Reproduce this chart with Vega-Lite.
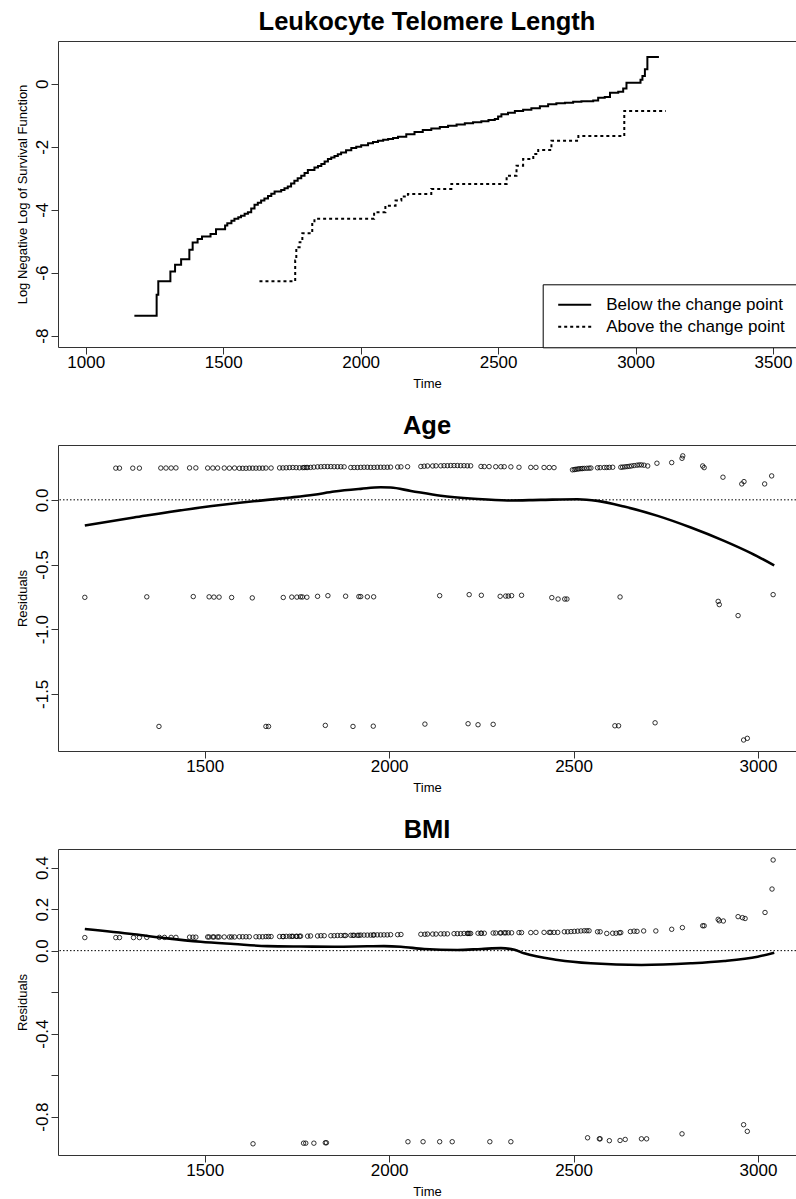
{
  "$schema": "https://vega.github.io/schema/vega-lite/v6.json",
  "padding": {"left": 15, "top": 9, "right": 0, "bottom": 0},
  "spacing": 22,
  "config": {
    "font": "Liberation Sans",
    "view": {"stroke": null},
    "axis": {"domainColor": "#333333", "tickColor": "#333333", "labelColor": "black", "titleColor": "black", "grid": false, "tickSize": 7, "labelFont": "Liberation Sans", "labelFontSize": 17, "titleFont": "Liberation Sans", "titleFontSize": 13, "titleFontWeight": "normal", "labelOverlap": false, "labelFlush": false, "labelBound": false},
    "title": {"font": "Liberation Sans", "fontSize": 25.5, "fontWeight": "bold", "baseline": "alphabetic", "offset": 5.6, "frame": "group", "anchor": "middle", "color": "black"}
  },
  "datasets": {
    "surv": [
      {"t":1177,"v":-7.37,"g":"Below the change point"},{"t":1258,"v":-6.70,"g":"Below the change point"},{"t":1264,"v":-6.27,"g":"Below the change point"},{"t":1308,"v":-5.96,"g":"Below the change point"},{"t":1325,"v":-5.75,"g":"Below the change point"},{"t":1347,"v":-5.57,"g":"Below the change point"},{"t":1377,"v":-5.27,"g":"Below the change point"},{"t":1389,"v":-5.04,"g":"Below the change point"},{"t":1407,"v":-4.93,"g":"Below the change point"},{"t":1423,"v":-4.85,"g":"Below the change point"},{"t":1454,"v":-4.77,"g":"Below the change point"},{"t":1474,"v":-4.62,"g":"Below the change point"},{"t":1507,"v":-4.50,"g":"Below the change point"},{"t":1515,"v":-4.43,"g":"Below the change point"},{"t":1530,"v":-4.35,"g":"Below the change point"},{"t":1541,"v":-4.29,"g":"Below the change point"},{"t":1555,"v":-4.24,"g":"Below the change point"},{"t":1565,"v":-4.19,"g":"Below the change point"},{"t":1578,"v":-4.13,"g":"Below the change point"},{"t":1590,"v":-4.08,"g":"Below the change point"},{"t":1602,"v":-3.96,"g":"Below the change point"},{"t":1614,"v":-3.84,"g":"Below the change point"},{"t":1626,"v":-3.78,"g":"Below the change point"},{"t":1638,"v":-3.71,"g":"Below the change point"},{"t":1650,"v":-3.64,"g":"Below the change point"},{"t":1663,"v":-3.56,"g":"Below the change point"},{"t":1675,"v":-3.49,"g":"Below the change point"},{"t":1687,"v":-3.42,"g":"Below the change point"},{"t":1711,"v":-3.37,"g":"Below the change point"},{"t":1723,"v":-3.32,"g":"Below the change point"},{"t":1735,"v":-3.26,"g":"Below the change point"},{"t":1747,"v":-3.17,"g":"Below the change point"},{"t":1759,"v":-3.08,"g":"Below the change point"},{"t":1771,"v":-3.00,"g":"Below the change point"},{"t":1784,"v":-2.92,"g":"Below the change point"},{"t":1796,"v":-2.83,"g":"Below the change point"},{"t":1808,"v":-2.74,"g":"Below the change point"},{"t":1832,"v":-2.66,"g":"Below the change point"},{"t":1845,"v":-2.61,"g":"Below the change point"},{"t":1857,"v":-2.55,"g":"Below the change point"},{"t":1869,"v":-2.47,"g":"Below the change point"},{"t":1881,"v":-2.39,"g":"Below the change point"},{"t":1893,"v":-2.34,"g":"Below the change point"},{"t":1905,"v":-2.29,"g":"Below the change point"},{"t":1917,"v":-2.24,"g":"Below the change point"},{"t":1929,"v":-2.18,"g":"Below the change point"},{"t":1947,"v":-2.11,"g":"Below the change point"},{"t":1966,"v":-2.04,"g":"Below the change point"},{"t":1984,"v":-2.00,"g":"Below the change point"},{"t":2002,"v":-1.95,"g":"Below the change point"},{"t":2027,"v":-1.89,"g":"Below the change point"},{"t":2045,"v":-1.85,"g":"Below the change point"},{"t":2063,"v":-1.81,"g":"Below the change point"},{"t":2082,"v":-1.78,"g":"Below the change point"},{"t":2100,"v":-1.75,"g":"Below the change point"},{"t":2118,"v":-1.72,"g":"Below the change point"},{"t":2136,"v":-1.68,"g":"Below the change point"},{"t":2166,"v":-1.60,"g":"Below the change point"},{"t":2196,"v":-1.53,"g":"Below the change point"},{"t":2226,"v":-1.47,"g":"Below the change point"},{"t":2257,"v":-1.42,"g":"Below the change point"},{"t":2288,"v":-1.37,"g":"Below the change point"},{"t":2318,"v":-1.33,"g":"Below the change point"},{"t":2349,"v":-1.29,"g":"Below the change point"},{"t":2379,"v":-1.25,"g":"Below the change point"},{"t":2409,"v":-1.22,"g":"Below the change point"},{"t":2439,"v":-1.19,"g":"Below the change point"},{"t":2465,"v":-1.15,"g":"Below the change point"},{"t":2488,"v":-1.12,"g":"Below the change point"},{"t":2500,"v":-1.04,"g":"Below the change point"},{"t":2512,"v":-0.97,"g":"Below the change point"},{"t":2536,"v":-0.92,"g":"Below the change point"},{"t":2561,"v":-0.86,"g":"Below the change point"},{"t":2591,"v":-0.82,"g":"Below the change point"},{"t":2621,"v":-0.78,"g":"Below the change point"},{"t":2652,"v":-0.71,"g":"Below the change point"},{"t":2682,"v":-0.65,"g":"Below the change point"},{"t":2712,"v":-0.62,"g":"Below the change point"},{"t":2743,"v":-0.60,"g":"Below the change point"},{"t":2773,"v":-0.57,"g":"Below the change point"},{"t":2803,"v":-0.55,"g":"Below the change point"},{"t":2846,"v":-0.53,"g":"Below the change point"},{"t":2864,"v":-0.44,"g":"Below the change point"},{"t":2888,"v":-0.42,"g":"Below the change point"},{"t":2907,"v":-0.28,"g":"Below the change point"},{"t":2937,"v":-0.25,"g":"Below the change point"},{"t":2955,"v":-0.15,"g":"Below the change point"},{"t":2967,"v":0.03,"g":"Below the change point"},{"t":3010,"v":0.03,"g":"Below the change point"},{"t":3018,"v":0.13,"g":"Below the change point"},{"t":3025,"v":0.25,"g":"Below the change point"},{"t":3034,"v":0.46,"g":"Below the change point"},{"t":3043,"v":0.85,"g":"Below the change point"},{"t":3085,"v":0.85,"g":"Below the change point"},
      {"t":1632,"v":-6.27,"g":"Above the change point"},{"t":1762,"v":-5.61,"g":"Above the change point"},{"t":1766,"v":-5.19,"g":"Above the change point"},{"t":1778,"v":-5.03,"g":"Above the change point"},{"t":1788,"v":-4.75,"g":"Above the change point"},{"t":1824,"v":-4.40,"g":"Above the change point"},{"t":1832,"v":-4.29,"g":"Above the change point"},{"t":2049,"v":-4.08,"g":"Above the change point"},{"t":2090,"v":-3.87,"g":"Above the change point"},{"t":2127,"v":-3.71,"g":"Above the change point"},{"t":2148,"v":-3.58,"g":"Above the change point"},{"t":2172,"v":-3.50,"g":"Above the change point"},{"t":2257,"v":-3.34,"g":"Above the change point"},{"t":2330,"v":-3.18,"g":"Above the change point"},{"t":2531,"v":-2.92,"g":"Above the change point"},{"t":2567,"v":-2.60,"g":"Above the change point"},{"t":2591,"v":-2.39,"g":"Above the change point"},{"t":2628,"v":-2.23,"g":"Above the change point"},{"t":2646,"v":-2.10,"g":"Above the change point"},{"t":2694,"v":-1.81,"g":"Above the change point"},{"t":2792,"v":-1.66,"g":"Above the change point"},{"t":2959,"v":-0.86,"g":"Above the change point"},{"t":3110,"v":-0.86,"g":"Above the change point"}
    ],
    "age": [
      {"t":1259,"r":0.245},{"t":1269,"r":0.245},{"t":1305,"r":0.245},{"t":1323,"r":0.245},{"t":1381,"r":0.246},{"t":1395,"r":0.246},{"t":1409,"r":0.246},{"t":1422,"r":0.247},{"t":1459,"r":0.247},{"t":1476,"r":0.247},{"t":1508,"r":0.246},{"t":1522,"r":0.246},{"t":1535,"r":0.246},{"t":1553,"r":0.246},{"t":1567,"r":0.245},{"t":1581,"r":0.246},{"t":1594,"r":0.244},{"t":1603,"r":0.244},{"t":1612,"r":0.244},{"t":1621,"r":0.245},{"t":1630,"r":0.245},{"t":1639,"r":0.245},{"t":1648,"r":0.245},{"t":1657,"r":0.245},{"t":1666,"r":0.246},{"t":1680,"r":0.246},{"t":1703,"r":0.247},{"t":1712,"r":0.247},{"t":1721,"r":0.248},{"t":1730,"r":0.249},{"t":1739,"r":0.25},{"t":1748,"r":0.249},{"t":1757,"r":0.248},{"t":1766,"r":0.249},{"t":1770,"r":0.25},{"t":1775,"r":0.25},{"t":1779,"r":0.25},{"t":1787,"r":0.251},{"t":1796,"r":0.253},{"t":1806,"r":0.255},{"t":1815,"r":0.256},{"t":1824,"r":0.257},{"t":1833,"r":0.257},{"t":1842,"r":0.257},{"t":1851,"r":0.256},{"t":1860,"r":0.256},{"t":1869,"r":0.256},{"t":1878,"r":0.255},{"t":1896,"r":0.25},{"t":1905,"r":0.25},{"t":1914,"r":0.25},{"t":1923,"r":0.251},{"t":1932,"r":0.252},{"t":1941,"r":0.252},{"t":1950,"r":0.251},{"t":1959,"r":0.251},{"t":1968,"r":0.252},{"t":1977,"r":0.252},{"t":1986,"r":0.252},{"t":1995,"r":0.252},{"t":2004,"r":0.253},{"t":2023,"r":0.254},{"t":2032,"r":0.255},{"t":2050,"r":0.256},{"t":2086,"r":0.258},{"t":2095,"r":0.26},{"t":2104,"r":0.262},{"t":2118,"r":0.262},{"t":2127,"r":0.263},{"t":2140,"r":0.263},{"t":2149,"r":0.264},{"t":2158,"r":0.264},{"t":2167,"r":0.265},{"t":2176,"r":0.265},{"t":2185,"r":0.265},{"t":2194,"r":0.264},{"t":2203,"r":0.264},{"t":2212,"r":0.263},{"t":2221,"r":0.263},{"t":2249,"r":0.258},{"t":2258,"r":0.257},{"t":2271,"r":0.257},{"t":2289,"r":0.256},{"t":2303,"r":0.256},{"t":2312,"r":0.256},{"t":2330,"r":0.255},{"t":2352,"r":0.252},{"t":2384,"r":0.251},{"t":2398,"r":0.251},{"t":2420,"r":0.25},{"t":2434,"r":0.25},{"t":2447,"r":0.249},{"t":2497,"r":0.232},{"t":2502,"r":0.234},{"t":2506,"r":0.236},{"t":2511,"r":0.238},{"t":2515,"r":0.24},{"t":2520,"r":0.241},{"t":2524,"r":0.242},{"t":2529,"r":0.243},{"t":2536,"r":0.244},{"t":2542,"r":0.245},{"t":2547,"r":0.246},{"t":2565,"r":0.248},{"t":2572,"r":0.249},{"t":2583,"r":0.25},{"t":2590,"r":0.25},{"t":2597,"r":0.251},{"t":2606,"r":0.252},{"t":2628,"r":0.252},{"t":2633,"r":0.253},{"t":2639,"r":0.255},{"t":2645,"r":0.257},{"t":2651,"r":0.259},{"t":2657,"r":0.262},{"t":2664,"r":0.265},{"t":2672,"r":0.268},{"t":2678,"r":0.27},{"t":2684,"r":0.27},{"t":2691,"r":0.268},{"t":2701,"r":0.262},{"t":2726,"r":0.283},{"t":2766,"r":0.288},{"t":2794,"r":0.321},{"t":2796,"r":0.34},{"t":2850,"r":0.262},{"t":2854,"r":0.249},{"t":2905,"r":0.175},{"t":2956,"r":0.123},{"t":2962,"r":0.141},{"t":3018,"r":0.123},{"t":3037,"r":0.185},
      {"t":1175,"r":-0.754},{"t":1343,"r":-0.75},{"t":1469,"r":-0.748},{"t":1512,"r":-0.75},{"t":1525,"r":-0.752},{"t":1539,"r":-0.752},{"t":1573,"r":-0.755},{"t":1629,"r":-0.758},{"t":1713,"r":-0.755},{"t":1736,"r":-0.752},{"t":1750,"r":-0.752},{"t":1760,"r":-0.75},{"t":1765,"r":-0.751},{"t":1777,"r":-0.753},{"t":1806,"r":-0.746},{"t":1834,"r":-0.741},{"t":1882,"r":-0.745},{"t":1918,"r":-0.748},{"t":1923,"r":-0.748},{"t":1941,"r":-0.75},{"t":1958,"r":-0.75},{"t":2137,"r":-0.741},{"t":2217,"r":-0.733},{"t":2250,"r":-0.738},{"t":2301,"r":-0.746},{"t":2316,"r":-0.744},{"t":2323,"r":-0.744},{"t":2332,"r":-0.741},{"t":2359,"r":-0.738},{"t":2441,"r":-0.756},{"t":2458,"r":-0.767},{"t":2476,"r":-0.767},{"t":2482,"r":-0.767},{"t":2626,"r":-0.751},{"t":2892,"r":-0.785},{"t":2895,"r":-0.81},{"t":2946,"r":-0.895},{"t":3041,"r":-0.733},
      {"t":1376,"r":-1.752},{"t":1666,"r":-1.752},{"t":1673,"r":-1.752},{"t":1827,"r":-1.744},{"t":1902,"r":-1.752},{"t":1957,"r":-1.75},{"t":2097,"r":-1.734},{"t":2214,"r":-1.731},{"t":2241,"r":-1.739},{"t":2282,"r":-1.736},{"t":2612,"r":-1.747},{"t":2622,"r":-1.747},{"t":2721,"r":-1.724},{"t":2961,"r":-1.857},{"t":2971,"r":-1.844}
    ],
    "ageFit": [
      {"t":1175,"r":-0.198},{"t":1308,"r":-0.137},{"t":1489,"r":-0.059},{"t":1670,"r":0.0},{"t":1733,"r":0.018},{"t":1796,"r":0.039},{"t":1851,"r":0.064},{"t":1923,"r":0.085},{"t":1977,"r":0.097},{"t":2004,"r":0.095},{"t":2059,"r":0.069},{"t":2140,"r":0.031},{"t":2230,"r":0.008},{"t":2321,"r":-0.005},{"t":2411,"r":0.0},{"t":2511,"r":0.005},{"t":2565,"r":-0.008},{"t":2637,"r":-0.052},{"t":2728,"r":-0.124},{"t":2818,"r":-0.214},{"t":2908,"r":-0.317},{"t":2981,"r":-0.412},{"t":3044,"r":-0.507}
    ],
    "bmi": [
      {"t":1175,"r":0.063},{"t":1259,"r":0.063},{"t":1269,"r":0.063},{"t":1307,"r":0.063},{"t":1323,"r":0.063},{"t":1343,"r":0.064},{"t":1377,"r":0.064},{"t":1391,"r":0.064},{"t":1409,"r":0.064},{"t":1422,"r":0.064},{"t":1459,"r":0.065},{"t":1468,"r":0.065},{"t":1476,"r":0.065},{"t":1508,"r":0.066},{"t":1512,"r":0.066},{"t":1522,"r":0.066},{"t":1525,"r":0.066},{"t":1535,"r":0.066},{"t":1539,"r":0.066},{"t":1553,"r":0.066},{"t":1567,"r":0.066},{"t":1573,"r":0.066},{"t":1581,"r":0.066},{"t":1594,"r":0.067},{"t":1603,"r":0.067},{"t":1612,"r":0.067},{"t":1621,"r":0.067},{"t":1639,"r":0.067},{"t":1648,"r":0.067},{"t":1657,"r":0.067},{"t":1666,"r":0.068},{"t":1673,"r":0.068},{"t":1680,"r":0.068},{"t":1703,"r":0.068},{"t":1712,"r":0.068},{"t":1713,"r":0.068},{"t":1721,"r":0.069},{"t":1730,"r":0.069},{"t":1736,"r":0.069},{"t":1739,"r":0.069},{"t":1748,"r":0.069},{"t":1750,"r":0.069},{"t":1757,"r":0.069},{"t":1760,"r":0.07},{"t":1779,"r":0.07},{"t":1787,"r":0.071},{"t":1806,"r":0.071},{"t":1815,"r":0.072},{"t":1824,"r":0.072},{"t":1842,"r":0.072},{"t":1851,"r":0.072},{"t":1860,"r":0.073},{"t":1869,"r":0.073},{"t":1878,"r":0.073},{"t":1882,"r":0.073},{"t":1896,"r":0.074},{"t":1902,"r":0.074},{"t":1905,"r":0.074},{"t":1914,"r":0.074},{"t":1918,"r":0.074},{"t":1923,"r":0.075},{"t":1932,"r":0.075},{"t":1941,"r":0.075},{"t":1950,"r":0.075},{"t":1957,"r":0.075},{"t":1959,"r":0.076},{"t":1968,"r":0.076},{"t":1977,"r":0.076},{"t":1986,"r":0.076},{"t":1995,"r":0.076},{"t":2004,"r":0.077},{"t":2023,"r":0.077},{"t":2032,"r":0.078},{"t":2086,"r":0.079},{"t":2097,"r":0.079},{"t":2104,"r":0.08},{"t":2118,"r":0.08},{"t":2127,"r":0.08},{"t":2140,"r":0.081},{"t":2149,"r":0.081},{"t":2158,"r":0.081},{"t":2176,"r":0.082},{"t":2185,"r":0.082},{"t":2194,"r":0.082},{"t":2203,"r":0.083},{"t":2212,"r":0.083},{"t":2214,"r":0.083},{"t":2217,"r":0.083},{"t":2221,"r":0.083},{"t":2241,"r":0.084},{"t":2249,"r":0.084},{"t":2250,"r":0.084},{"t":2258,"r":0.084},{"t":2282,"r":0.085},{"t":2289,"r":0.085},{"t":2301,"r":0.085},{"t":2303,"r":0.086},{"t":2312,"r":0.086},{"t":2316,"r":0.086},{"t":2323,"r":0.086},{"t":2332,"r":0.086},{"t":2352,"r":0.087},{"t":2359,"r":0.087},{"t":2384,"r":0.087},{"t":2398,"r":0.088},{"t":2420,"r":0.088},{"t":2434,"r":0.088},{"t":2438,"r":0.088},{"t":2447,"r":0.088},{"t":2457,"r":0.088},{"t":2475,"r":0.091},{"t":2484,"r":0.091},{"t":2493,"r":0.092},{"t":2502,"r":0.093},{"t":2511,"r":0.094},{"t":2520,"r":0.095},{"t":2529,"r":0.096},{"t":2536,"r":0.096},{"t":2542,"r":0.096},{"t":2565,"r":0.091},{"t":2572,"r":0.091},{"t":2590,"r":0.083},{"t":2606,"r":0.084},{"t":2615,"r":0.084},{"t":2624,"r":0.086},{"t":2628,"r":0.087},{"t":2654,"r":0.092},{"t":2664,"r":0.094},{"t":2672,"r":0.093},{"t":2690,"r":0.095},{"t":2723,"r":0.095},{"t":2766,"r":0.103},{"t":2795,"r":0.111},{"t":2850,"r":0.12},{"t":2854,"r":0.12},{"t":2892,"r":0.151},{"t":2895,"r":0.144},{"t":2906,"r":0.143},{"t":2946,"r":0.164},{"t":2958,"r":0.159},{"t":2965,"r":0.155},{"t":3019,"r":0.184},{"t":3038,"r":0.297},{"t":3041,"r":0.437},
      {"t":1631,"r":-0.931},{"t":1768,"r":-0.928},{"t":1774,"r":-0.928},{"t":1796,"r":-0.928},{"t":1827,"r":-0.926},{"t":1830,"r":-0.926},{"t":2051,"r":-0.921},{"t":2092,"r":-0.921},{"t":2137,"r":-0.921},{"t":2171,"r":-0.921},{"t":2273,"r":-0.921},{"t":2330,"r":-0.921},{"t":2538,"r":-0.902},{"t":2570,"r":-0.907},{"t":2572,"r":-0.907},{"t":2597,"r":-0.916},{"t":2626,"r":-0.915},{"t":2640,"r":-0.91},{"t":2684,"r":-0.907},{"t":2698,"r":-0.907},{"t":2794,"r":-0.883},{"t":2961,"r":-0.839},{"t":2971,"r":-0.871}
    ],
    "bmiFit": [
      {"t":1175,"r":0.104},{"t":1308,"r":0.079},{"t":1399,"r":0.059},{"t":1489,"r":0.043},{"t":1579,"r":0.032},{"t":1670,"r":0.022},{"t":1760,"r":0.02},{"t":1851,"r":0.019},{"t":1941,"r":0.021},{"t":1986,"r":0.022},{"t":2032,"r":0.019},{"t":2095,"r":0.008},{"t":2185,"r":0.003},{"t":2250,"r":0.008},{"t":2303,"r":0.012},{"t":2340,"r":0.004},{"t":2366,"r":-0.013},{"t":2457,"r":-0.045},{"t":2547,"r":-0.061},{"t":2684,"r":-0.069},{"t":2818,"r":-0.061},{"t":2908,"r":-0.05},{"t":2999,"r":-0.029},{"t":3044,"r":-0.01}
    ]
  },
  "vconcat": [
    {
      "width": 738,
      "height": 306,
      "title": {"text": "Leukocyte Telomere Length"},
      "layer": [
        {
          "data": {"name": "surv"},
          "mark": {"type": "line", "interpolate": "step-after", "color": "black", "strokeWidth": 2},
          "encoding": {
            "x": {"field": "t", "type": "quantitative", "scale": {"domain": [899.2, 3583.6], "nice": false, "zero": false},
              "axis": {"orient": "bottom", "title": "Time", "values": [1000, 1500, 2000, 2500, 3000, 3500], "format": "d", "labelBaseline": "alphabetic", "labelPadding": 13, "labelAngle": 0, "titleBaseline": "alphabetic", "titleY": 40.5}},
            "y": {"field": "v", "type": "quantitative", "scale": {"domain": [-8.36, 1.36], "nice": false, "zero": false},
              "axis": {"orient": "left", "title": "Log Negative Log of Survival Function", "values": [-8, -6, -4, -2, 0], "format": "d", "labelExpr": "replace(datum.label, '\u2212', '-')", "labelAngle": 270, "labelAlign": "center", "labelBaseline": "alphabetic", "labelPadding": 4, "titleAngle": 270, "titleBaseline": "alphabetic", "titleX": -32}},
            "strokeDash": {"field": "g", "type": "nominal",
              "scale": {"domain": ["Below the change point", "Above the change point"], "range": [[1, 0], [3, 3]]},
              "legend": {"title": null, "orient": "none", "legendX": 484.7, "legendY": 243.3, "direction": "vertical", "symbolType": "M-3.3,0H3.3", "symbolSize": 100, "symbolStrokeWidth": 2, "symbolStrokeColor": "black", "symbolFillColor": "transparent", "labelFont": "Liberation Sans", "labelFontSize": 17, "labelColor": "black", "labelOffset": 23, "labelLimit": 400, "padding": 12, "symbolOffset": 11.5, "rowPadding": 4, "strokeColor": "black", "fillColor": "white"}}
          }
        },
        {
          "data": {"name": "surv"},
          "mark": {"type": "point", "opacity": 0},
          "encoding": {
            "x": {"field": "t", "type": "quantitative", "axis": {"orient": "top", "labels": false, "ticks": false, "title": null, "domain": true}},
            "y": {"field": "v", "type": "quantitative"}
          }
        }
      ]
    },
    {
      "width": 738,
      "height": 306,
      "title": {"text": "Age"},
      "layer": [
        {
          "data": {"values": [{}]},
          "mark": {"type": "rule", "color": "black", "strokeWidth": 1, "strokeDash": [1.5, 2]},
          "encoding": {"y": {"datum": 0, "type": "quantitative"}}
        },
        {
          "data": {"name": "age"},
          "mark": {"type": "point", "shape": "circle", "filled": false, "color": "black", "size": 20, "strokeWidth": 0.8, "opacity": 1},
          "encoding": {
            "x": {"field": "t", "type": "quantitative", "scale": {"domain": [1102.3, 3103], "nice": false, "zero": false},
              "axis": {"orient": "bottom", "title": "Time", "values": [1500, 2000, 2500, 3000], "format": "d", "labelBaseline": "alphabetic", "labelPadding": 13, "labelAngle": 0, "titleBaseline": "alphabetic", "titleY": 40.5}},
            "y": {"field": "r", "type": "quantitative", "scale": {"domain": [-1.942, 0.424], "nice": false, "zero": false},
              "axis": {"orient": "left", "title": "Residuals", "values": [-1.5, -1, -0.5, 0], "format": ".1f", "labelExpr": "replace(datum.label, '\u2212', '-')", "labelAngle": 270, "labelAlign": "center", "labelBaseline": "alphabetic", "labelPadding": 4, "titleAngle": 270, "titleBaseline": "alphabetic", "titleX": -32}}
          }
        },
        {
          "data": {"name": "ageFit"},
          "mark": {"type": "line", "color": "black", "strokeWidth": 2.6, "interpolate": "monotone"},
          "encoding": {
            "x": {"field": "t", "type": "quantitative", "axis": {"orient": "top", "labels": false, "ticks": false, "title": null, "domain": true}},
            "y": {"field": "r", "type": "quantitative"}
          }
        }
      ]
    },
    {
      "width": 738,
      "height": 306,
      "title": {"text": "BMI"},
      "layer": [
        {
          "data": {"values": [{}]},
          "mark": {"type": "rule", "color": "black", "strokeWidth": 1, "strokeDash": [1.5, 2]},
          "encoding": {"y": {"datum": 0, "type": "quantitative"}}
        },
        {
          "data": {"name": "bmi"},
          "mark": {"type": "point", "shape": "circle", "filled": false, "color": "black", "size": 20, "strokeWidth": 0.8, "opacity": 1},
          "encoding": {
            "x": {"field": "t", "type": "quantitative", "scale": {"domain": [1102.3, 3103], "nice": false, "zero": false},
              "axis": {"orient": "bottom", "title": "Time", "values": [1500, 2000, 2500, 3000], "format": "d", "labelBaseline": "alphabetic", "labelPadding": 13, "labelAngle": 0, "titleBaseline": "alphabetic", "titleY": 40.5}},
            "y": {"field": "r", "type": "quantitative", "scale": {"domain": [-0.985, 0.49], "nice": false, "zero": false},
              "axis": {"orient": "left", "title": "Residuals", "values": [-0.8, -0.6, -0.4, -0.2, 0, 0.2, 0.4], "format": ".1f", "labelExpr": "(abs(datum.value + 0.2) < 0.01 || abs(datum.value + 0.6) < 0.01) ? '' : replace(datum.label, '\u2212', '-')", "labelAngle": 270, "labelAlign": "center", "labelBaseline": "alphabetic", "labelPadding": 4, "titleAngle": 270, "titleBaseline": "alphabetic", "titleX": -32}}
          }
        },
        {
          "data": {"name": "bmiFit"},
          "mark": {"type": "line", "color": "black", "strokeWidth": 2.6, "interpolate": "monotone"},
          "encoding": {
            "x": {"field": "t", "type": "quantitative", "axis": {"orient": "top", "labels": false, "ticks": false, "title": null, "domain": true}},
            "y": {"field": "r", "type": "quantitative"}
          }
        }
      ]
    }
  ]
}
